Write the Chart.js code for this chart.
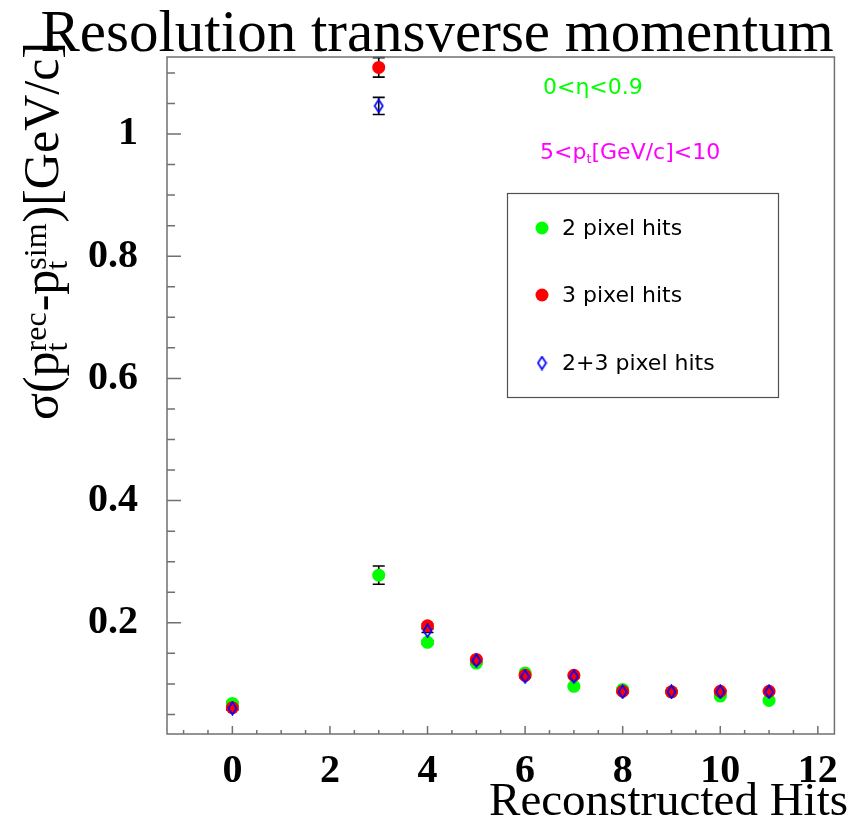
<!DOCTYPE html>
<html>
<head>
<meta charset="utf-8">
<title>Resolution transverse momentum</title>
<script src="https://cdn.jsdelivr.net/npm/chart.js@4/dist/chart.umd.min.js"></script>
<style>
  html, body { margin: 0; padding: 0; background: #fff; }
  #wrap { width: 852px; height: 820px; }
</style>
</head>
<body>
<div id="wrap"><canvas id="c" width="852" height="820"></canvas></div>
<script>
// values
const HITS        = [0, 3, 4, 5, 6, 7, 8, 9, 10, 11];
const SIGMA_2PIX  = [0.068, 0.278, 0.168, 0.134, 0.118, 0.096, 0.091, 0.087, 0.080, 0.073];
const ERR_2PIX    = [0.003, 0.015, 0.003, 0.002, 0.002, 0.002, 0.002, 0.002, 0.002, 0.002];
const SIGMA_3PIX  = [0.061, 1.109, 0.195, 0.140, 0.114, 0.114, 0.088, 0.087, 0.088, 0.088];
const ERR_3PIX    = [0.003, 0.016, 0.003, 0.002, 0.002, 0.002, 0.002, 0.002, 0.002, 0.002];
const SIGMA_23PIX = [0.060, 1.046, 0.187, 0.138, 0.112, 0.112, 0.087, 0.087, 0.087, 0.087];
const ERR_23PIX   = [0.003, 0.014, 0.003, 0.002, 0.002, 0.002, 0.002, 0.002, 0.002, 0.002];

const X_TICKS = [0, 2, 4, 6, 8, 10, 12];
const Y_TICKS = [0.2, 0.4, 0.6, 0.8, 1];
const SERIES_NAMES = ['2 pixel hits', '3 pixel hits', '2+3 pixel hits'];

const GREEN = '#00ff00', RED = '#ff0000', BLUE = '#0000ff', MAGENTA = '#ff00ff';
const FRAME = '#707070';
const SERIF = '"Liberation Serif", "Times New Roman", serif';
const SANS  = '"DejaVu Sans", sans-serif';

// hollow diamond marker
const diamond = document.createElement('canvas');
diamond.width = 11; diamond.height = 15;
(function () {
  const d = diamond.getContext('2d');
  d.strokeStyle = BLUE; d.lineWidth = 1.7;
  d.beginPath();
  d.moveTo(5.5, 1.2); d.lineTo(9.6, 7.5); d.lineTo(5.5, 13.8); d.lineTo(1.4, 7.5); d.closePath();
  d.stroke();
})();

function pts(ys) { return HITS.map((h, i) => ({ x: h, y: ys[i] })); }

const errs = [ERR_2PIX, ERR_3PIX, ERR_23PIX];
const vals = [SIGMA_2PIX, SIGMA_3PIX, SIGMA_23PIX];

const rootStyle = {
  id: 'rootStyle',
  beforeDatasetsDraw(chart) {
    const ctx = chart.ctx, xs = chart.scales.x, ys = chart.scales.y;
    ctx.save();
    ctx.strokeStyle = '#000'; ctx.lineWidth = 1.6;
    vals.forEach((v, k) => {
      HITS.forEach((h, i) => {
        const px = xs.getPixelForValue(h);
        const top = ys.getPixelForValue(v[i] + errs[k][i]);
        const bot = ys.getPixelForValue(v[i] - errs[k][i]);
        ctx.beginPath();
        ctx.moveTo(px, top); ctx.lineTo(px, bot);
        ctx.moveTo(px - 6, top); ctx.lineTo(px + 6, top);
        ctx.moveTo(px - 6, bot); ctx.lineTo(px + 6, bot);
        ctx.stroke();
      });
    });
    ctx.restore();
  },
  afterDraw(chart) {
    const ctx = chart.ctx, a = chart.chartArea;
    const xs = chart.scales.x, ys = chart.scales.y;
    ctx.save();

    // frame + inside ticks
    ctx.strokeStyle = FRAME; ctx.lineWidth = 1.5;
    ctx.strokeRect(a.left, a.top, a.right - a.left, a.bottom - a.top);
    ctx.beginPath();
    for (let v = -1; v <= 12.01; v += 0.5) {
      const px = xs.getPixelForValue(v);
      const len = Math.abs(v % 2) < 1e-6 ? 8 : 4;
      ctx.moveTo(px, a.bottom); ctx.lineTo(px, a.bottom - len);
    }
    for (let v = 0.05; v <= 1.12; v += 0.05) {
      const py = ys.getPixelForValue(v);
      const major = Math.abs(Math.round(v * 20) % 4) === 0;
      ctx.moveTo(a.left, py); ctx.lineTo(a.left + (major ? 14 : 8), py);
    }
    ctx.stroke();

    // title
    ctx.fillStyle = '#000';
    ctx.font = '59px ' + SERIF;
    ctx.textAlign = 'center'; ctx.textBaseline = 'alphabetic';
    ctx.fillText('Resolution transverse momentum', 437, 51);

    // x axis title
    ctx.font = '47px ' + SERIF;
    ctx.textAlign = 'right';
    ctx.fillText('Reconstructed Hits', 848, 815);

    // y axis title, rotated, with sub/superscripts
    ctx.save();
    ctx.translate(58, 420);
    ctx.rotate(-Math.PI / 2);
    ctx.textAlign = 'left';
    let x = 0;
    const big = '50px ' + SERIF, small = '32px ' + SERIF;
    function put(t, font, dy) { ctx.font = font; ctx.fillText(t, x, dy); return ctx.measureText(t).width; }
    function stack(sub, sup) {
      const w1 = put(sub, small, 9), w2 = put(sup, small, -12);
      x += Math.max(w1, w2) + 1;
    }
    x += put('σ(p', big, 0);
    stack('t', 'rec');
    x += put('-p', big, 0);
    stack('t', 'sim');
    x += put(')[GeV/c]', big, 0);
    ctx.restore();

    // annotations
    ctx.textAlign = 'left';
    ctx.font = '22px ' + SANS;
    ctx.fillStyle = GREEN;
    ctx.fillText('0<η<0.9', 543, 94);
    ctx.fillStyle = MAGENTA;
    let ax = 540;
    ctx.fillText('5<p', ax, 159); ax += ctx.measureText('5<p').width;
    ctx.font = '13px ' + SANS;
    ctx.fillText('t', ax, 163); ax += ctx.measureText('t').width;
    ctx.font = '22px ' + SANS;
    ctx.fillText('[GeV/c]<10', ax, 159);

    // legend box
    ctx.strokeStyle = '#505050'; ctx.lineWidth = 1.2;
    ctx.strokeRect(507.5, 193.5, 271, 204);
    const rowY = [228, 295, 363];
    ctx.textBaseline = 'middle';
    chart.data.datasets.forEach((ds, i) => {
      const o = { pointStyle: ds.pointStyle, radius: ds.pointRadius, borderWidth: 0 };
      ctx.fillStyle = ds.backgroundColor;
      Chart.helpers.drawPoint(ctx, o, 542, rowY[i]);
      ctx.fillStyle = '#000';
      ctx.font = '22px ' + SANS;
      ctx.fillText(SERIES_NAMES[i], 562, rowY[i] + 1);
    });
    ctx.restore();
  }
};

new Chart(document.getElementById('c'), {
  type: 'scatter',
  data: {
    datasets: [
      { label: SERIES_NAMES[0], data: pts(SIGMA_2PIX), pointStyle: 'circle', pointRadius: 6.5,
        backgroundColor: GREEN, borderWidth: 0, order: 3 },
      { label: SERIES_NAMES[1], data: pts(SIGMA_3PIX), pointStyle: 'circle', pointRadius: 6.5,
        backgroundColor: RED, borderWidth: 0, order: 2 },
      { label: SERIES_NAMES[2], data: pts(SIGMA_23PIX), pointStyle: diamond, pointRadius: 6,
        backgroundColor: 'rgba(0,0,0,0)', borderWidth: 0, order: 1 }
    ]
  },
  options: {
    responsive: false, animation: false, devicePixelRatio: 1,
    layout: { padding: { left: 0, right: 5, top: 57, bottom: 0 } },
    plugins: { legend: { display: false }, tooltip: { enabled: false } },
    scales: {
      x: {
        type: 'linear', min: -1.34, max: 12.34,
        grid: { display: false, drawTicks: false }, border: { display: false },
        afterBuildTicks: s => { s.ticks = X_TICKS.map(v => ({ value: v })); },
        afterFit: s => { s.height = 86; },
        ticks: { color: '#000', padding: 14, maxRotation: 0, autoSkip: false,
                 font: { family: SERIF, size: 40, weight: 'bold' }, callback: v => String(v) }
      },
      y: {
        type: 'linear', min: 0.018, max: 1.126,
        grid: { display: false, drawTicks: false }, border: { display: false },
        afterBuildTicks: s => { s.ticks = Y_TICKS.map(v => ({ value: v })); },
        afterFit: s => { s.width = 167; },
        ticks: { color: '#000', padding: 29, autoSkip: false,
                 font: { family: SERIF, size: 40, weight: 'bold' },
                 callback: v => String(Math.round(v * 10) / 10) }
      }
    }
  },
  plugins: [rootStyle]
});
</script>
</body>
</html>
